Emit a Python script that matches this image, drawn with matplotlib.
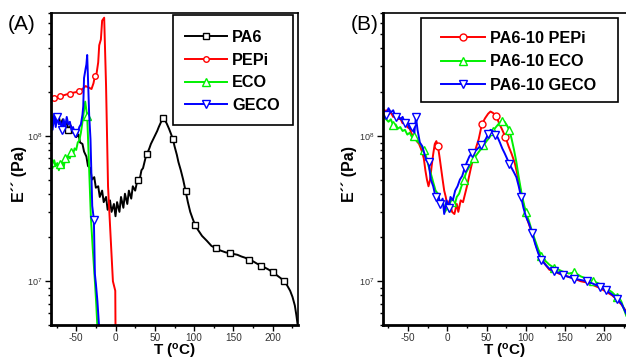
import numpy as np
import matplotlib
matplotlib.use("Agg")
import matplotlib.pyplot as plt
from matplotlib.patches import Rectangle
from matplotlib.ticker import LogLocator, FixedLocator, MultipleLocator, NullFormatter

plt.rcParams['font.family'] = ['Liberation Sans', 'DejaVu Sans']
plt.rcParams['mathtext.fontset'] = 'custom'
plt.rcParams['mathtext.rm'] = 'Liberation Sans'
plt.rcParams['mathtext.bf'] = 'Liberation Sans:bold'

# ---------------- Panel A data ----------------
pa6_T = [-82, -79, -77, -75, -72, -70, -67, -65, -62, -60, -57, -55, -52, -50, -47, -45, -42, -40,
         -37, -35, -32, -30, -27, -25, -22, -20, -17, -15, -12, -10, -7, -5, -2, 0, 2, 5, 7, 10, 12,
         15, 17, 20, 22, 25, 28, 30, 33, 35, 38, 40, 43, 45, 48, 50, 53, 55, 58, 60, 62, 65, 68, 70,
         73, 75, 78, 80, 83, 86, 89, 92, 95, 98, 101, 105, 110, 116, 122, 128, 133, 140, 145, 150,
         155, 160, 165, 170, 175, 180, 185, 190, 195, 200, 205, 210, 214, 218, 222, 225, 228, 230, 232]
pa6_E = [1.45e8, 1.2e8, 1.4e8, 1.25e8, 1.35e8, 1.2e8, 1.3e8, 1.15e8, 1.25e8, 1.1e8, 1.18e8, 1.05e8,
         1.1e8, 0.98e8, 1.02e8, 0.9e8, 0.88e8, 0.78e8, 0.72e8, 0.62e8, 0.6e8, 0.5e8, 0.52e8, 0.44e8,
         0.45e8, 0.38e8, 0.42e8, 0.35e8, 0.38e8, 0.31e8, 0.36e8, 0.3e8, 0.34e8, 0.28e8, 0.35e8, 0.3e8,
         0.38e8, 0.32e8, 0.4e8, 0.34e8, 0.42e8, 0.37e8, 0.45e8, 0.42e8, 0.5e8, 0.48e8, 0.58e8, 0.6e8,
         0.7e8, 0.75e8, 0.82e8, 0.88e8, 0.95e8, 1.0e8, 1.08e8, 1.15e8, 1.25e8, 1.32e8, 1.3e8, 1.22e8,
         1.12e8, 1.05e8, 0.95e8, 0.85e8, 0.74e8, 0.66e8, 0.58e8, 0.5e8, 0.42e8, 0.35e8, 0.3e8, 0.27e8,
         0.245e8, 0.225e8, 0.205e8, 0.19e8, 0.175e8, 0.168e8, 0.163e8, 0.158e8, 0.156e8, 0.154e8,
         0.152e8, 0.148e8, 0.145e8, 0.14e8, 0.137e8, 0.132e8, 0.128e8, 0.124e8, 0.12e8, 0.115e8,
         0.11e8, 0.105e8, 0.1e8, 0.094e8, 0.086e8, 0.078e8, 0.068e8, 0.058e8, 0.048e8]

pepi_T = [-82, -78, -74, -70, -66, -62, -58, -54, -50, -46, -42, -38, -34, -30.5, -28, -26, -24,
          -22, -20.7, -18.6, -17, -14.4, -12, -9.5, -5.5, -3.3, -0.3, 0]
pepi_E = [1.78e8, 1.82e8, 1.85e8, 1.88e8, 1.9e8, 1.93e8, 1.95e8, 1.98e8, 2.0e8, 2.05e8, 2.1e8,
          2.2e8, 2.15e8, 2.1e8, 2.3e8, 2.6e8, 2.7e8, 3.2e8, 4.2e8, 4.6e8, 6.2e8, 6.5e8, 2.2e8,
          4.5e7, 1.7e7, 1.0e7, 8.6e6, 4.8e6]

eco_T = [-82, -80, -78, -76, -74, -72, -70, -68, -66, -64, -62, -60, -58, -56, -54, -52, -50, -48,
         -46, -44, -42, -40, -38.5, -37, -36, -34, -31.3, -29, -26.2, -24.5, -23]
eco_E = [6.6e7, 6.0e7, 6.8e7, 6.2e7, 6.5e7, 5.8e7, 6.4e7, 6.6e7, 6.0e7, 7.0e7, 6.7e7, 7.3e7, 7.0e7,
         7.8e7, 7.5e7, 8.2e7, 8.0e7, 9.0e7, 9.3e7, 1.05e8, 1.25e8, 1.5e8, 1.72e8, 1.5e8, 1.38e8,
         7.0e7, 2.75e7, 1.7e7, 1.0e7, 7.0e6, 4.8e6]

geco_T = [-82, -80, -78, -76, -74, -72, -70, -68, -66, -64, -62, -60, -58, -56, -54, -52, -50, -48,
          -46, -44, -42, -41, -40, -38, -37, -36, -35, -33.5, -31.8, -29.6, -27.5, -26.2, -25, -23, -20.8]
geco_E = [1.3e8, 1.1e8, 1.4e8, 1.15e8, 1.35e8, 1.2e8, 1.25e8, 1.1e8, 1.3e8, 1.15e8, 1.35e8, 1.2e8,
          1.25e8, 1.1e8, 1.15e8, 1.05e8, 1.0e8, 1.05e8, 1.15e8, 1.2e8, 1.4e8, 1.6e8, 2.5e8, 2.9e8,
          3.1e8, 3.6e8, 2.5e8, 1.4e8, 9.5e7, 3.3e7, 2.65e7, 1.12e7, 9.7e6, 7.3e6, 4.8e6]

# ---------------- Panel B data ----------------
b_pepi_T = [-81, -78, -75, -72, -69, -66, -63, -60, -57, -54, -51, -48, -45, -42, -39, -36, -33, -30,
            -28, -26, -24, -22, -20, -18, -16, -14, -12, -10, -8, -6, -4, -2, 0, 3, 6, 9, 12, 14, 17,
            20, 25, 30, 35, 40, 44, 48, 52, 55, 58, 62, 66, 70, 74, 78, 82, 86, 90, 94, 98, 102, 106,
            110, 114, 118, 122, 126, 130, 136, 142, 148, 155, 162, 170, 178, 186, 194, 202, 210, 216,
            222, 228]
b_pepi_E = [1.42e8, 1.5e8, 1.4e8, 1.45e8, 1.35e8, 1.4e8, 1.3e8, 1.32e8, 1.22e8, 1.25e8, 1.15e8,
            1.12e8, 1.02e8, 1.0e8, 0.92e8, 0.88e8, 0.8e8, 0.7e8, 0.58e8, 0.5e8, 0.45e8, 0.5e8, 0.62e8,
            0.75e8, 0.88e8, 0.92e8, 0.85e8, 0.72e8, 0.6e8, 0.5e8, 0.42e8, 0.38e8, 0.33e8, 0.36e8,
            0.3e8, 0.29e8, 0.34e8, 0.3e8, 0.36e8, 0.35e8, 0.45e8, 0.6e8, 0.78e8, 0.95e8, 1.2e8,
            1.32e8, 1.42e8, 1.47e8, 1.44e8, 1.38e8, 1.22e8, 1.1e8, 0.98e8, 0.85e8, 0.75e8, 0.65e8,
            0.52e8, 0.4e8, 0.32e8, 0.265e8, 0.23e8, 0.2e8, 0.17e8, 0.15e8, 0.138e8, 0.128e8, 0.12e8,
            0.117e8, 0.113e8, 0.11e8, 0.107e8, 0.104e8, 0.1e8, 0.098e8, 0.094e8, 0.09e8, 0.085e8,
            0.08e8, 0.075e8, 0.069e8, 0.062e8]

b_eco_T = [-81, -78, -75, -72, -69, -66, -63, -60, -57, -54, -51, -48, -45, -42, -39, -36, -33, -30,
           -27, -24, -21, -18, -15, -12, -9, -6, -3, 0, 3, 6, 9, 12, 15, 18, 21, 24, 27, 30, 34, 38,
           42, 46, 50, 54, 58, 62, 66, 70, 73, 76, 79, 82, 85, 88, 91, 94, 97, 100, 104, 108, 112,
           116, 120, 125, 130, 136, 142, 148, 155, 162, 170, 178, 186, 194, 202, 210, 216, 222, 228]
b_eco_E = [1.35e8, 1.3e8, 1.25e8, 1.3e8, 1.18e8, 1.2e8, 1.12e8, 1.15e8, 1.08e8, 1.1e8, 1.02e8,
           1.05e8, 0.98e8, 1.0e8, 0.92e8, 0.9e8, 0.85e8, 0.8e8, 0.72e8, 0.62e8, 0.55e8, 0.48e8,
           0.42e8, 0.4e8, 0.34e8, 0.36e8, 0.3e8, 0.32e8, 0.3e8, 0.35e8, 0.33e8, 0.38e8, 0.4e8,
           0.45e8, 0.5e8, 0.56e8, 0.6e8, 0.64e8, 0.7e8, 0.75e8, 0.8e8, 0.86e8, 0.92e8, 0.98e8,
           1.08e8, 1.15e8, 1.22e8, 1.27e8, 1.25e8, 1.18e8, 1.1e8, 0.95e8, 0.8e8, 0.66e8, 0.52e8,
           0.42e8, 0.35e8, 0.3e8, 0.26e8, 0.22e8, 0.19e8, 0.165e8, 0.15e8, 0.138e8, 0.13e8, 0.124e8,
           0.12e8, 0.116e8, 0.113e8, 0.115e8, 0.108e8, 0.104e8, 0.1e8, 0.096e8, 0.09e8, 0.084e8,
           0.078e8, 0.072e8, 0.058e8]

b_geco_T = [-81, -78, -75, -72, -69, -66, -63, -60, -57, -54, -51, -48, -45, -42, -40, -38, -35, -32,
            -30, -27, -24, -21, -18, -15, -12, -9, -6, -4, -1, 2, 4, 7, 10, 13, 16, 19, 22, 25, 28, 31,
            34, 37, 40, 43, 46, 49, 52, 55, 58, 61, 64, 67, 70, 73, 76, 79, 82, 85, 88, 91, 94, 97,
            100, 104, 108, 112, 116, 120, 125, 130, 136, 142, 148, 155, 162, 170, 178, 186, 194, 202,
            210, 216, 222, 228]
b_geco_E = [1.5e8, 1.4e8, 1.55e8, 1.45e8, 1.5e8, 1.35e8, 1.4e8, 1.3e8, 1.35e8, 1.22e8, 1.25e8,
            1.12e8, 1.15e8, 1.05e8, 1.35e8, 1.1e8, 0.9e8, 0.85e8, 0.78e8, 0.68e8, 0.66e8, 0.5e8,
            0.45e8, 0.38e8, 0.4e8, 0.34e8, 0.37e8, 0.29e8, 0.36e8, 0.32e8, 0.38e8, 0.36e8, 0.42e8,
            0.45e8, 0.5e8, 0.53e8, 0.6e8, 0.66e8, 0.72e8, 0.76e8, 0.78e8, 0.8e8, 0.83e8, 0.86e8,
            0.9e8, 0.95e8, 1.03e8, 1.1e8, 1.08e8, 1.02e8, 0.98e8, 0.9e8, 0.82e8, 0.76e8, 0.7e8,
            0.64e8, 0.6e8, 0.56e8, 0.52e8, 0.45e8, 0.38e8, 0.32e8, 0.28e8, 0.25e8, 0.215e8, 0.18e8,
            0.155e8, 0.14e8, 0.13e8, 0.122e8, 0.117e8, 0.114e8, 0.11e8, 0.107e8, 0.104e8, 0.102e8,
            0.1e8, 0.096e8, 0.092e8, 0.087e8, 0.081e8, 0.076e8, 0.07e8, 0.06e8]

x_ticks = [-50, 0, 50, 100, 150, 200]
x_ticklabels = ['-50', '0', '50', '100', '150', '200']
y_ticks = [1e7, 1e8]
y_ticklabels = [r'$10^7$', r'$10^8$']

# marker positions (temperatures) for sparse hollow markers
mk_pa6 = [-60, 28, 41, 61, 73, 89, 101, 129, 143, 171, 187, 200, 216]
mk_pepi = [-78, -70, -58, -46, -26]
mk_eco = [-82, -70, -64, -55, -36]
mk_geco = [-74, -68, -51, -27.5]
mk_b_pepi = [-81, -11, 44, 62, 76]
mk_b_eco = [-69, -42, -30, 6, 20, 34, 47, 60, 71, 79, 100, 120, 136, 164, 190, 215]
mk_b_geco = [-77, -66, -53, -45, -40, -24, -15, -9, 2, 22, 31, 43, 52, 62, 79, 94, 108, 120, 136,
             148, 162, 178, 194, 202, 216]


def idx(T, temps):
    T = np.asarray(T, dtype=float)
    return sorted(set(int(np.argmin(np.abs(T - t))) for t in temps))


W, H = 626, 361
fig = plt.figure(figsize=(W / 100, H / 100), dpi=100)

axA = fig.add_axes([51 / W, 1 - 325 / H, 247 / W, 312 / H])
axB = fig.add_axes([383 / W, 1 - 325 / H, 244 / W, 312 / H])

lw = 1.4
GREEN = '#00f000'
axA.plot(pa6_T, pa6_E, color='black', lw=lw, marker='s', ms=4, mfc='white', mew=1.0,
         markevery=idx(pa6_T, mk_pa6), label='PA6')
axA.plot(pepi_T, pepi_E, color='#ff0000', lw=lw, marker='o', ms=4, mfc='white', mew=1.0,
         markevery=idx(pepi_T, mk_pepi), label='PEPi')
axA.plot(eco_T, eco_E, color=GREEN, lw=lw, marker='^', ms=6, mfc='white', mew=1.0,
         markevery=idx(eco_T, mk_eco), label='ECO')
axA.plot(geco_T, geco_E, color='#0000ff', lw=lw, marker='v', ms=6, mfc='white', mew=1.0,
         markevery=idx(geco_T, mk_geco), label='GECO')

axB.plot(b_pepi_T, b_pepi_E, color='#ff0000', lw=lw, marker='o', ms=5, mfc='white', mew=1.0,
         markevery=idx(b_pepi_T, mk_b_pepi), label='PA6-10 PEPi')
axB.plot(b_eco_T, b_eco_E, color=GREEN, lw=lw, marker='^', ms=6, mfc='white', mew=1.0,
         markevery=idx(b_eco_T, mk_b_eco), label='PA6-10 ECO')
axB.plot(b_geco_T, b_geco_E, color='#0000ff', lw=lw, marker='v', ms=6, mfc='white', mew=1.0,
         markevery=idx(b_geco_T, mk_b_geco), label='PA6-10 GECO')

for ax, xl in ((axA, (-82, 232)), (axB, (-82, 229))):
    ax.set_yscale('log')
    ax.set_xlim(*xl)
    ax.set_ylim(5e6, 7e8)
    ax.xaxis.set_major_locator(FixedLocator(x_ticks))
    ax.set_xticklabels(x_ticklabels)
    ax.xaxis.set_minor_locator(MultipleLocator(25))
    ax.yaxis.set_major_locator(FixedLocator(y_ticks))
    ax.set_yticklabels(y_ticklabels)
    ax.yaxis.set_minor_locator(LogLocator(base=10, subs=np.arange(2, 10)))
    ax.yaxis.set_minor_formatter(NullFormatter())
    ax.tick_params(which='both', direction='out', width=1.0, color='black')
    ax.tick_params(which='major', length=4)
    ax.tick_params(which='minor', length=2.5)
    ax.tick_params(axis='x', labelsize=7.2, labelcolor='#333333', pad=1.5)
    ax.tick_params(axis='y', labelsize=6.5, labelcolor='#333333', pad=2)
    ax.spines['left'].set_linewidth(2.0)
    ax.spines['bottom'].set_linewidth(2.0)
    ax.spines['top'].set_linewidth(1.2)
    ax.spines['right'].set_linewidth(1.2)
    ax.set_xlabel(r'T ($\mathbf{^o}$C)', fontsize=11, fontweight='bold')
    ax.xaxis.set_label_coords(0.5, -0.054)
    ax.set_ylabel('E\u00b4\u00b4 (Pa)', fontsize=11.5, fontweight='bold')

axA.yaxis.set_label_coords(-0.097, 0.484)
axB.yaxis.set_label_coords(-0.107, 0.484)

leg_kw = dict(loc='upper left', bbox_transform=fig.transFigure, prop={'weight': 'bold', 'size': 11.7},
              frameon=False, handletextpad=0.3, borderpad=0, borderaxespad=0)
legA = axA.legend(bbox_to_anchor=(185 / W, 1 - 30 / H), handlelength=2.6, labelspacing=0.47, **leg_kw)
legB = axB.legend(bbox_to_anchor=(441 / W, 1 - 31 / H), handlelength=2.7, labelspacing=0.52, **leg_kw)

for (x0, y0, x1, y1) in ((173, 15, 293, 125), (421, 18, 618, 102)):
    fig.patches.append(Rectangle((x0 / W, 1 - y1 / H), (x1 - x0) / W, (y1 - y0) / H,
                                 transform=fig.transFigure, fill=False, edgecolor='black',
                                 linewidth=1.2, zorder=5))

fig.text(8 / W, 1 - 25 / H, '(A)', fontsize=15, va='center', ha='left')
fig.text(351 / W, 1 - 24 / H, '(B)', fontsize=15, va='center', ha='left')

fig.savefig('out.png', dpi=100)
